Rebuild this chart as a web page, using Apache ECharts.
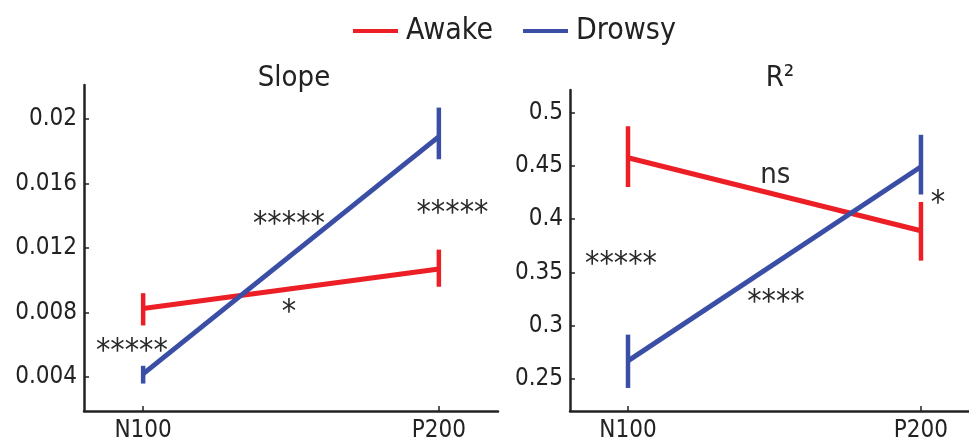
<!DOCTYPE html>
<html>
<head>
<meta charset="utf-8">
<script src="https://cdn.jsdelivr.net/npm/echarts@6/dist/echarts.min.js"></script>
<style>html,body{margin:0;padding:0;background:#fff}#c{width:969px;height:443px}</style>
</head>
<body>
<div id="c"></div>
<script>
// ---- data ----
var categories = ['N100', 'P200'];
var seriesNames = ['Awake', 'Drowsy'];
var panelTitles = ['Slope', 'R\u00B2'];

var slopeAwakeMean = [0.00825, 0.0107];
var slopeAwakeLow  = [0.0072, 0.0096];
var slopeAwakeHigh = [0.0092, 0.0119];
var slopeDrowsyMean = [0.0042, 0.0189];
var slopeDrowsyLow  = [0.0036, 0.0175];
var slopeDrowsyHigh = [0.0047, 0.0207];

var r2AwakeMean = [0.4575, 0.389];
var r2AwakeLow  = [0.430, 0.361];
var r2AwakeHigh = [0.487, 0.416];
var r2DrowsyMean = [0.267, 0.449];
var r2DrowsyLow  = [0.2416, 0.423];
var r2DrowsyHigh = [0.2916, 0.479];

var slopeTicks = [0.004, 0.008, 0.012, 0.016, 0.02];
var slopeTickLabels = ['0.004', '0.008', '0.012', '0.016', '0.02'];
var r2Ticks = [0.25, 0.3, 0.35, 0.4, 0.45, 0.5];
var r2TickLabels = ['0.25', '0.3', '0.35', '0.4', '0.45', '0.5'];

// significance annotations: [category position, value, text]
var slopeNotes = [[-0.038, 0.00603, '*****'], [0.493, 0.0139, '*****'], [0.493, 0.00843, '*'], [1.046, 0.01459, '*****']];
var r2Notes = [[-0.024, 0.3635, '*****'], [0.505, 0.3281, '****'], [1.058, 0.4213, '*'], [0.503, 0.4413, 'ns']];

// ---- styling ----
var RED = '#ec1f26', BLUE = '#3b4ea6', INK = '#222222';
var FONT = "'DejaVu Sans Condensed', 'DejaVu Sans', sans-serif";

var chart = echarts.init(document.getElementById('c'), null, {renderer: 'canvas'});

function pts(means) { return means.map(function (m, i) { return [i, m]; }); }
function bars(lo, hi) { return lo.map(function (l, i) { return [i, l, hi[i]]; }); }

function errSeries(name, color, idx, lo, hi) {
  return {
    type: 'custom', name: name, xAxisIndex: idx, yAxisIndex: idx, z: 3,
    data: bars(lo, hi),
    encode: {x: 0, y: [1, 2]},
    renderItem: function (params, api) {
      var a = api.coord([api.value(0), api.value(1)]);
      var b = api.coord([api.value(0), api.value(2)]);
      return {type: 'line', shape: {x1: a[0], y1: a[1], x2: b[0], y2: b[1]},
        style: {stroke: color, lineWidth: 4.5, lineCap: 'butt'}};
    }
  };
}
function lineSeries(name, color, idx, means) {
  return {type: 'line', name: name, xAxisIndex: idx, yAxisIndex: idx, data: pts(means),
    symbol: 'none', z: 2, lineStyle: {color: color, width: 5}, itemStyle: {color: color}, animation: false};
}
function noteSeries(idx, notes) {
  return {
    type: 'custom', name: 'notes' + idx, xAxisIndex: idx, yAxisIndex: idx, z: 5,
    data: notes.map(function (n) { return [n[0], n[1]]; }),
    renderItem: function (params, api) {
      var p = api.coord([api.value(0), api.value(1)]);
      var t = notes[params.dataIndex][2];
      var dy = t === 'ns' ? 0 : 7;
      return {type: 'text', x: p[0], y: p[1] + dy,
        style: {text: t, fill: '#2a2a2a', fontSize: t === 'ns' ? 29 : 32, fontFamily: FONT, align: 'center', verticalAlign: 'middle'}};
    }
  };
}
function xAxis(idx, min, max) {
  return {type: 'value', gridIndex: idx, min: min, max: max,
    axisLine: {show: true, onZero: false, lineStyle: {color: INK, width: 2.5}},
    axisTick: {show: true, inside: true, length: 5, customValues: [0, 1], lineStyle: {color: INK, width: 1.5}},
    axisLabel: {customValues: [0, 1], formatter: function (v) { return categories[Math.round(v)]; },
      color: INK, fontSize: 24, fontFamily: FONT, margin: 8},
    splitLine: {show: false}};
}
function yAxis(idx, min, max, ticks, labels) {
  return {type: 'value', gridIndex: idx, min: min, max: max,
    axisLine: {show: true, onZero: false, lineStyle: {color: INK, width: 2.5}},
    axisTick: {show: true, inside: true, length: 5, customValues: ticks, lineStyle: {color: INK, width: 1.5}},
    axisLabel: {customValues: ticks, formatter: function (v) {
        var i = ticks.findIndex(function (t) { return Math.abs(t - v) < 1e-9; }); return i >= 0 ? labels[i] : ''; },
      color: INK, fontSize: 24, fontFamily: FONT, margin: 7},
    splitLine: {show: false}};
}

chart.setOption({
  animation: false,
  backgroundColor: '#ffffff',
  title: [
    {text: panelTitles[0], left: 289, top: 59, textAlign: 'center',
      textStyle: {fontSize: 29, fontWeight: 'normal', color: INK, fontFamily: FONT}},
    {text: panelTitles[1], left: 775, top: 59, textAlign: 'center',
      textStyle: {fontSize: 29, fontWeight: 'normal', color: INK, fontFamily: FONT}}
  ],
  legend: {
    data: [{name: seriesNames[0], icon: 'rect'}, {name: seriesNames[1], icon: 'rect'}],
    left: 353, top: 16, padding: 0, itemWidth: 45, itemHeight: 4, itemGap: 30,
    textStyle: {fontSize: 30, color: INK, fontFamily: FONT, padding: [0, 0, 0, 3]}
  },
  grid: [
    {left: 84, top: 85, width: 414, height: 328},
    {left: 570, top: 90, width: 399, height: 323}
  ],
  xAxis: [xAxis(0, -0.2, 1.2), xAxis(1, -0.198, 1.164)],
  yAxis: [yAxis(0, 0.0019, 0.0221, slopeTicks, slopeTickLabels), yAxis(1, 0.22, 0.521, r2Ticks, r2TickLabels)],
  series: [
    lineSeries(seriesNames[0], RED, 0, slopeAwakeMean),
    lineSeries(seriesNames[1], BLUE, 0, slopeDrowsyMean),
    errSeries('Awake SE', RED, 0, slopeAwakeLow, slopeAwakeHigh),
    errSeries('Drowsy SE', BLUE, 0, slopeDrowsyLow, slopeDrowsyHigh),
    noteSeries(0, slopeNotes),
    lineSeries(seriesNames[0], RED, 1, r2AwakeMean),
    lineSeries(seriesNames[1], BLUE, 1, r2DrowsyMean),
    errSeries('Awake SE', RED, 1, r2AwakeLow, r2AwakeHigh),
    errSeries('Drowsy SE', BLUE, 1, r2DrowsyLow, r2DrowsyHigh),
    noteSeries(1, r2Notes)
  ]
});
</script>
</body>
</html>
